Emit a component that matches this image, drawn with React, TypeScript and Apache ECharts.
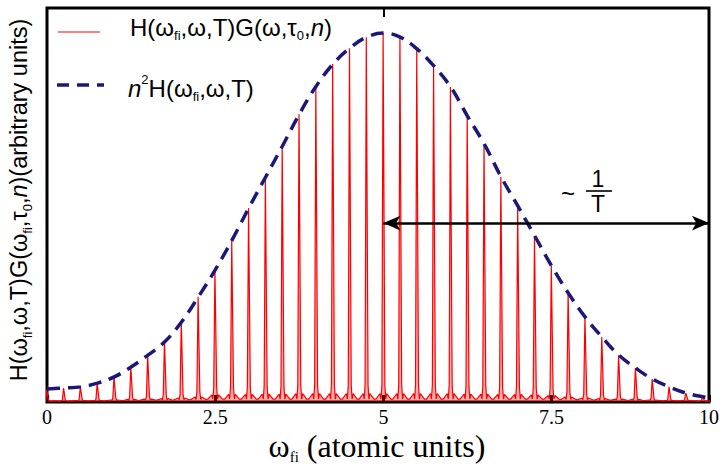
import React, { useEffect, useRef } from "react";
import * as echarts from "echarts";

// positions of the red resonance peaks (atomic units)
const spikeX = [
  0, 0.25, 0.5, 0.75, 1, 1.25, 1.5, 1.75, 2, 2.25,
  2.5, 2.75, 3, 3.25, 3.5, 3.75, 4, 4.25, 4.5, 4.75,
  5, 5.25, 5.5, 5.75, 6, 6.25, 6.5, 6.75, 7, 7.25,
  7.5, 7.75, 8, 8.25, 8.5, 8.75, 9, 9.25, 9.5, 9.75,
];
// peak heights (arbitrary units, max = 100)
const spikePeak = [
  3.3, 3.8, 4.1, 5.1, 6.8, 9.5, 12.7, 16.3, 21.7, 28.5,
  35.8, 43.9, 52.6, 61.0, 69.4, 78.0, 85.6, 91.6, 95.9, 98.9,
  100, 98.9, 95.7, 91.1, 85.4, 77.5, 69.9, 61.0, 53.1, 45.0,
  36.9, 29.5, 23.0, 17.6, 12.7, 9.2, 6.2, 4.1, 2.4, 1.4,
];
// side-lobe heights near the base of each peak
const lobeHeight = [
  0.5, 0.5, 0.8, 0.8, 1.1, 1.4, 1.6, 1.9, 2.2, 2.7,
  3.8, 4.1, 4.1, 4.3, 4.3, 4.6, 4.6, 4.6, 4.6, 4.6,
  4.6, 4.6, 4.6, 4.6, 4.6, 4.3, 4.3, 4.1, 4.1, 3.8,
  3.5, 2.7, 2.2, 1.9, 1.6, 1.4, 1.1, 0.8, 0.8, 0.5,
];
// floor of the red trace between peaks
const troughHeight = [
  0.3, 0.3, 0.3, 0.3, 0.4, 0.4, 0.5, 0.5, 0.6, 0.7,
  0.8, 0.8, 0.8, 0.8, 0.8, 0.8, 0.8, 0.8, 0.8, 0.8,
  0.8, 0.8, 0.8, 0.8, 0.8, 0.8, 0.8, 0.8, 0.8, 0.8,
  0.8, 0.7, 0.6, 0.5, 0.5, 0.4, 0.4, 0.3, 0.3, 0.3,
];
// dashed envelope n^2 H
const envelopeX = [...spikeX, 9.84];
const envelopeY = [
  3.5, 3.8, 4.1, 5.1, 6.8, 9.5, 12.7, 16.3, 21.7, 28.5,
  35.8, 43.9, 52.6, 61.0, 69.4, 78.0, 85.6, 91.6, 95.9, 98.9,
  100, 98.9, 95.7, 91.1, 85.4, 77.5, 69.9, 61.0, 53.1, 45.0,
  36.9, 29.5, 23.0, 17.6, 12.7, 9.2, 6.2, 4.1, 2.4, 1.4, 1.1,
];
const xMin = 0;
const xMax = 9.84;
const xInterval = 2.5;
const xMaxLabel = "10";
const yMax = 106.8;
const arrowFrom = 5;
const arrowLevel = 48.5;

const RED = "#ff0000";
const NAVY = "#1c1878";
const SANS = "'Liberation Sans', Arial, sans-serif";
const SERIF = "'Liberation Serif', 'Times New Roman', serif";

function buildTrace(): number[][] {
  const pts: number[][] = [];
  spikeX.forEach((x, i) => {
    const L = lobeHeight[i];
    const t = troughHeight[i];
    const P = spikePeak[i];
    pts.push([x - 0.11, t]);
    pts.push([x - 0.05, L * 0.5]);
    pts.push([x - 0.035, t]);
    pts.push([x - 0.022, L]);
    pts.push([x - 0.004, P]);
    pts.push([x + 0.004, P]);
    pts.push([x + 0.022, L]);
    pts.push([x + 0.035, t]);
    pts.push([x + 0.05, L * 0.5]);
    pts.push([x + 0.11, t]);
  });
  return pts;
}

const sansRich = (size: number, sub: number) => ({
  m: { fontFamily: SANS, fontSize: size, lineHeight: 30, color: "#000", verticalAlign: "middle" },
  i: { fontFamily: SANS, fontSize: size, lineHeight: 30, color: "#000", fontStyle: "italic", verticalAlign: "middle" },
  s: { fontFamily: SANS, fontSize: sub, lineHeight: 16, color: "#000", verticalAlign: "bottom" },
  p: { fontFamily: SANS, fontSize: sub, lineHeight: 20, color: "#000", verticalAlign: "top" },
});

export default function App() {
  const ref = useRef<HTMLDivElement>(null);
  useEffect(() => {
    if (!ref.current) return;
    const chart = echarts.init(ref.current, undefined, { renderer: "svg" });
    const option: any = {
      animation: false,
      backgroundColor: "#fff",
      grid: {
        left: 47,
        right: 9,
        top: 8,
        bottom: 67,
        show: true,
        borderColor: "#000",
        borderWidth: 3,
        backgroundColor: "transparent",
      },
      xAxis: [
        {
          type: "value",
          min: xMin,
          max: xMax,
          interval: xInterval,
          position: "bottom",
          axisLine: { show: false },
          splitLine: { show: false },
          axisTick: { show: true, inside: true, length: 7, lineStyle: { color: "#000", width: 3 } },
          axisLabel: {
            show: true,
            margin: 5,
            color: "#000",
            fontFamily: SERIF,
            fontSize: 20,
            formatter: (v: number) => "{t|" + (v > 9.6 ? xMaxLabel : String(v)) + "}",
            rich: {
              t: { fontFamily: SERIF, fontSize: 20, color: "#000" },
            },
          },
        },
        {
          type: "value",
          min: xMin,
          max: xMax,
          position: "top",
          axisLine: { show: false },
          splitLine: { show: false },
          axisLabel: { show: false },
          axisTick: {
            show: true,
            inside: true,
            length: 9,
            customValues: [5],
            lineStyle: { color: "#000", width: 2 },
          },
        },
      ],
      yAxis: {
        type: "value",
        min: 0,
        max: yMax,
        axisLine: { show: false },
        axisTick: { show: false },
        axisLabel: { show: false },
        splitLine: { show: false },
      },
      series: [
        {
          type: "line",
          name: "H G",
          data: buildTrace(),
          symbol: "none",
          clip: true,
          lineStyle: { color: RED, width: 1.2 },
          areaStyle: { color: "rgba(255,0,0,0.45)" },
          z: 2,
        },
        {
          type: "line",
          name: "n2 H",
          data: envelopeX.map((x, i) => [x, envelopeY[i]]),
          symbol: "none",
          smooth: 0.4,
          clip: true,
          lineStyle: { color: NAVY, width: 3.5, type: [13, 8] },
          z: 3,
          markLine: {
            silent: true,
            symbol: ["arrow", "arrow"],
            symbolSize: [11, 17],
            label: { show: false },
            lineStyle: { color: "#000", width: 2.5, type: "solid" },
            data: [[{ coord: [arrowFrom, arrowLevel] }, { coord: [xMax, arrowLevel] }]],
          },
        },
      ],
      graphic: [
        // legend
        { type: "line", shape: { x1: 58, y1: 32, x2: 100, y2: 32 }, style: { stroke: RED, lineWidth: 1.2 } },
        {
          type: "text",
          x: 130,
          y: 27,
          style: {
            text: "{m|H(ω}{s|fi}{m|,ω,T)G(ω,τ}{s|0}{m|,}{i|n}{m|)}",
            rich: sansRich(24, 13),
            align: "left",
            verticalAlign: "middle",
          },
        },
        {
          type: "line",
          shape: { x1: 57, y1: 85, x2: 104, y2: 85 },
          style: { stroke: NAVY, lineWidth: 3.5, lineDash: [12, 8] },
        },
        {
          type: "text",
          x: 128,
          y: 88,
          style: {
            text: "{i|n}{p|2}{m|H(ω}{s|fi}{m|,ω,T)}",
            rich: sansRich(24, 13),
            align: "left",
            verticalAlign: "middle",
          },
        },
        // y axis title
        {
          type: "text",
          x: 19,
          y: 200,
          rotation: Math.PI / 2,
          style: {
            text: "{m|H(ω}{s|fi}{m|,ω,T)G(ω}{s|fi}{m|,τ}{s|0}{m|,}{i|n}{m|)(arbitrary units)}",
            rich: sansRich(23.5, 13),
            align: "center",
            verticalAlign: "middle",
          },
        },
        // x axis title
        {
          type: "text",
          x: 377,
          y: 446,
          style: {
            text: "{w|ω}{s|fi}{w| (atomic units)}",
            rich: {
              w: { fontFamily: SERIF, fontSize: 32, lineHeight: 36, color: "#000", verticalAlign: "middle" },
              s: { fontFamily: SERIF, fontSize: 15, lineHeight: 16, color: "#000", verticalAlign: "bottom" },
            },
            align: "center",
            verticalAlign: "middle",
          },
        },
        // ~ 1/T annotation
        { type: "text", x: 568, y: 193, style: { text: "~", font: `24px ${SANS}`, fill: "#000", align: "center", verticalAlign: "middle" } },
        { type: "text", x: 598, y: 179, style: { text: "1", font: `23px ${SANS}`, fill: "#000", align: "center", verticalAlign: "middle" } },
        { type: "line", shape: { x1: 586, y1: 191, x2: 612, y2: 191 }, style: { stroke: "#000", lineWidth: 1.6 } },
        { type: "text", x: 598, y: 204, style: { text: "T", font: `23px ${SANS}`, fill: "#000", align: "center", verticalAlign: "middle" } },
      ],
    };
    chart.setOption(option);
    return () => chart.dispose();
  }, []);
  return (
    <div
      ref={ref}
      style={{ position: "fixed", left: 0, top: 0, width: 722, height: 469, background: "#fff" }}
    />
  );
}
